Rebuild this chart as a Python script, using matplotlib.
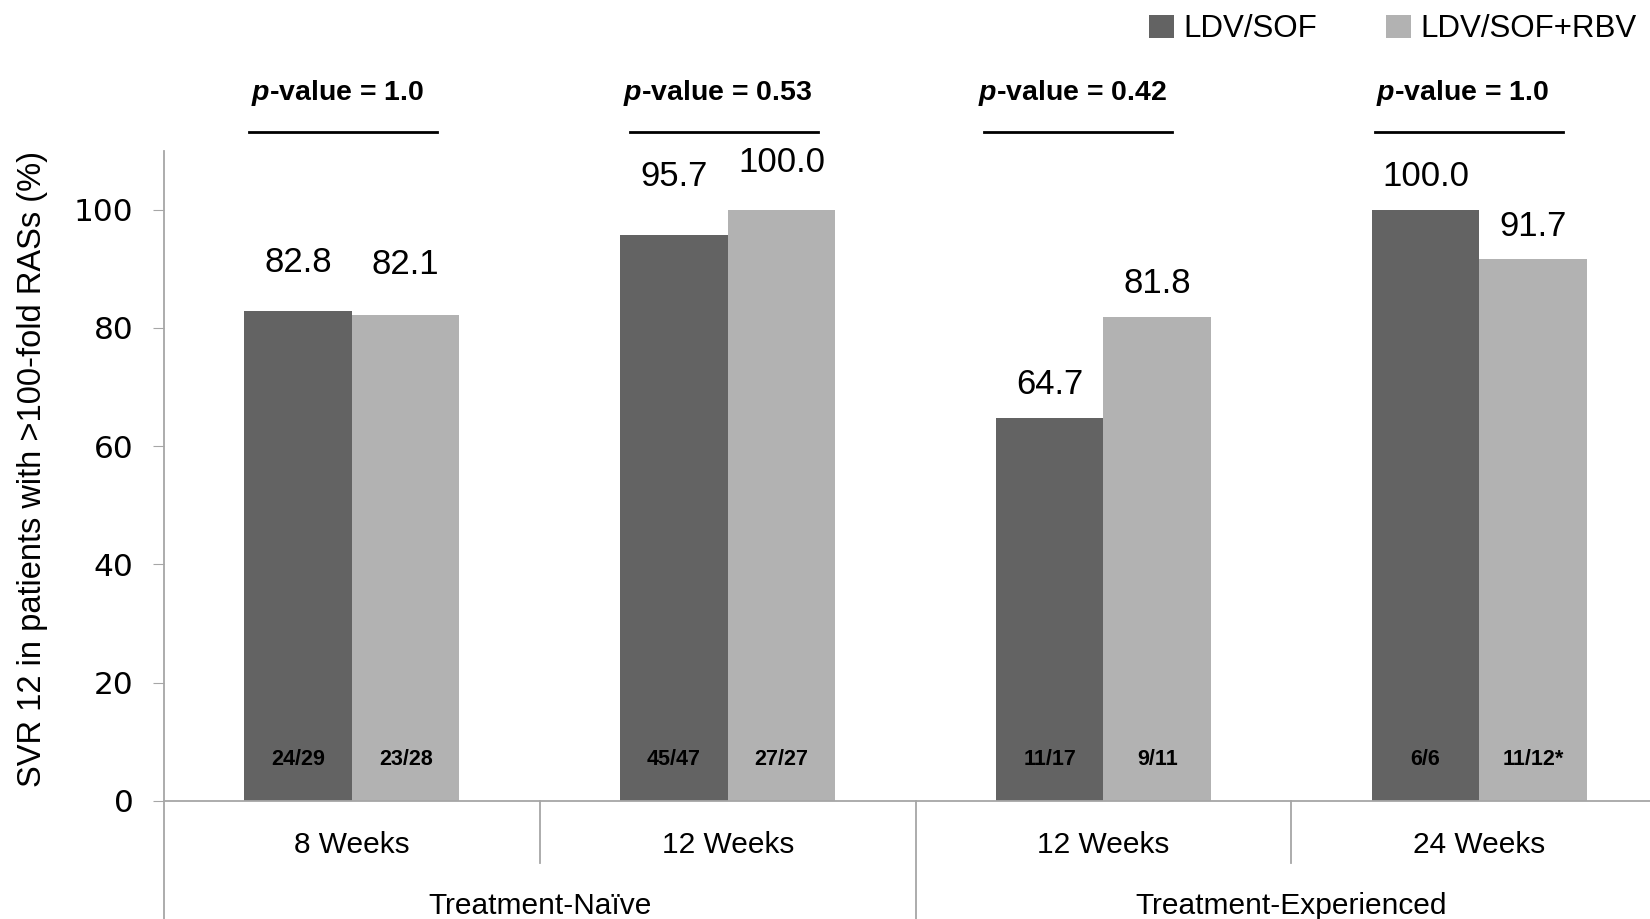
"""SVR12 by regimen in patients with >100-fold RASs."""

import matplotlib.pyplot as plt
import numpy as np

plt.rcParams["font.family"] = ["Liberation Sans", "DejaVu Sans"]
plt.rcParams["mathtext.fontset"] = "custom"
plt.rcParams["mathtext.it"] = "Liberation Sans:italic:bold"
plt.rcParams["mathtext.rm"] = "Liberation Sans:bold"

# data
durations = ["8 Weeks", "12 Weeks", "12 Weeks", "24 Weeks"]
groups = ["Treatment-Naïve", "Treatment-Experienced"]
series = ["LDV/SOF", "LDV/SOF+RBV"]
svr_ldv_sof = [82.8, 95.7, 64.7, 100.0]
svr_ldv_sof_rbv = [82.1, 100.0, 81.8, 91.7]
n_ldv_sof = ["24/29", "45/47", "11/17", "6/6"]
n_ldv_sof_rbv = ["23/28", "27/27", "9/11", "11/12*"]
p_values = ["1.0", "0.53", "0.42", "1.0"]

DARK = "#636363"
LIGHT = "#b2b2b2"
GRID = "#a6a6a6"

fig = plt.figure(figsize=(16.5, 9.19), dpi=100)
ax = fig.add_axes([0.0994, 0.1286, 0.911, 0.7076])

x = np.arange(len(durations))
w = 0.286
b1 = ax.bar(x - w / 2, svr_ldv_sof, w, color=DARK, label=series[0])
b2 = ax.bar(x + w / 2, svr_ldv_sof_rbv, w, color=LIGHT, label=series[1])

ax.set_xlim(-0.5, 3.5)
ax.set_ylim(0, 110)
ax.set_yticks(range(0, 101, 20))
ax.tick_params(axis="y", labelsize=22.5, length=8, color=GRID, pad=14,
               labelfontfamily="DejaVu Sans")
ax.set_xticks([])
for s in ["top", "right"]:
    ax.spines[s].set_visible(False)
for s in ["left", "bottom"]:
    ax.spines[s].set_color(GRID)
    ax.spines[s].set_linewidth(1.3)
ax.spines["left"].set_bounds(-30, 110)
ax.spines["left"].set_clip_on(False)

ax.set_ylabel("SVR 12 in patients with >100-fold RASs (%)", fontsize=23.5)
ax.yaxis.set_label_coords(-0.077, 0.511)

# value labels above bars (offsets in points)
off_dark = [35, 42, 24, 24]
off_light = [37, 34, 24, 23]
for bars, vals, offs in [(b1, svr_ldv_sof, off_dark), (b2, svr_ldv_sof_rbv, off_light)]:
    for r, v, o in zip(bars, vals, offs):
        ax.annotate(f"{v:.1f}", (r.get_x() + r.get_width() / 2, v), xytext=(0, o),
                    textcoords="offset points", ha="center", va="center", fontsize=25)

# n/N inside bars
for bars, labs in [(b1, n_ldv_sof), (b2, n_ldv_sof_rbv)]:
    for r, t in zip(bars, labs):
        ax.text(r.get_x() + r.get_width() / 2, 7, t, ha="center", va="center",
                fontsize=15.5, fontweight="bold")

# p-values with line underneath
trans = ax.get_xaxis_transform()
p_shift = [-0.024, -0.011, -0.067, -0.028]
for i, (p, s) in enumerate(zip(p_values, p_shift)):
    cx = x[i] + s
    ax.plot([cx - 0.25, cx + 0.25], [1.029, 1.029], color="black", lw=2,
            transform=trans, clip_on=False)
    ax.text(cx - 0.015, 1.088, f"$\\it{{p}}$-value = {p}", transform=trans, ha="center",
            va="center", fontsize=20.5, fontweight="bold")

# category axis: separators and two label rows
for xs in [0.5, 2.5]:
    ax.plot([xs, xs], [0, -0.095], color=GRID, lw=1.3, transform=trans, clip_on=False)
ax.plot([1.5, 1.5], [0, -0.3], color=GRID, lw=1.3, transform=trans, clip_on=False)
for i, lab in enumerate(durations):
    ax.text(x[i], -0.068, lab, transform=trans, ha="center", va="center", fontsize=21.5)
for j, lab in enumerate(groups):
    ax.text(0.5 + 2 * j, -0.162, lab, transform=trans, ha="center", va="center", fontsize=21.5)

fig.legend(handles=[b1, b2], loc="upper right", bbox_to_anchor=(1.009, 1.015), ncol=2,
           frameon=False, fontsize=22.5, handlelength=0.8, handleheight=0.8,
           handletextpad=0.3, columnspacing=2.2)

fig.savefig("out.png", dpi=100)
